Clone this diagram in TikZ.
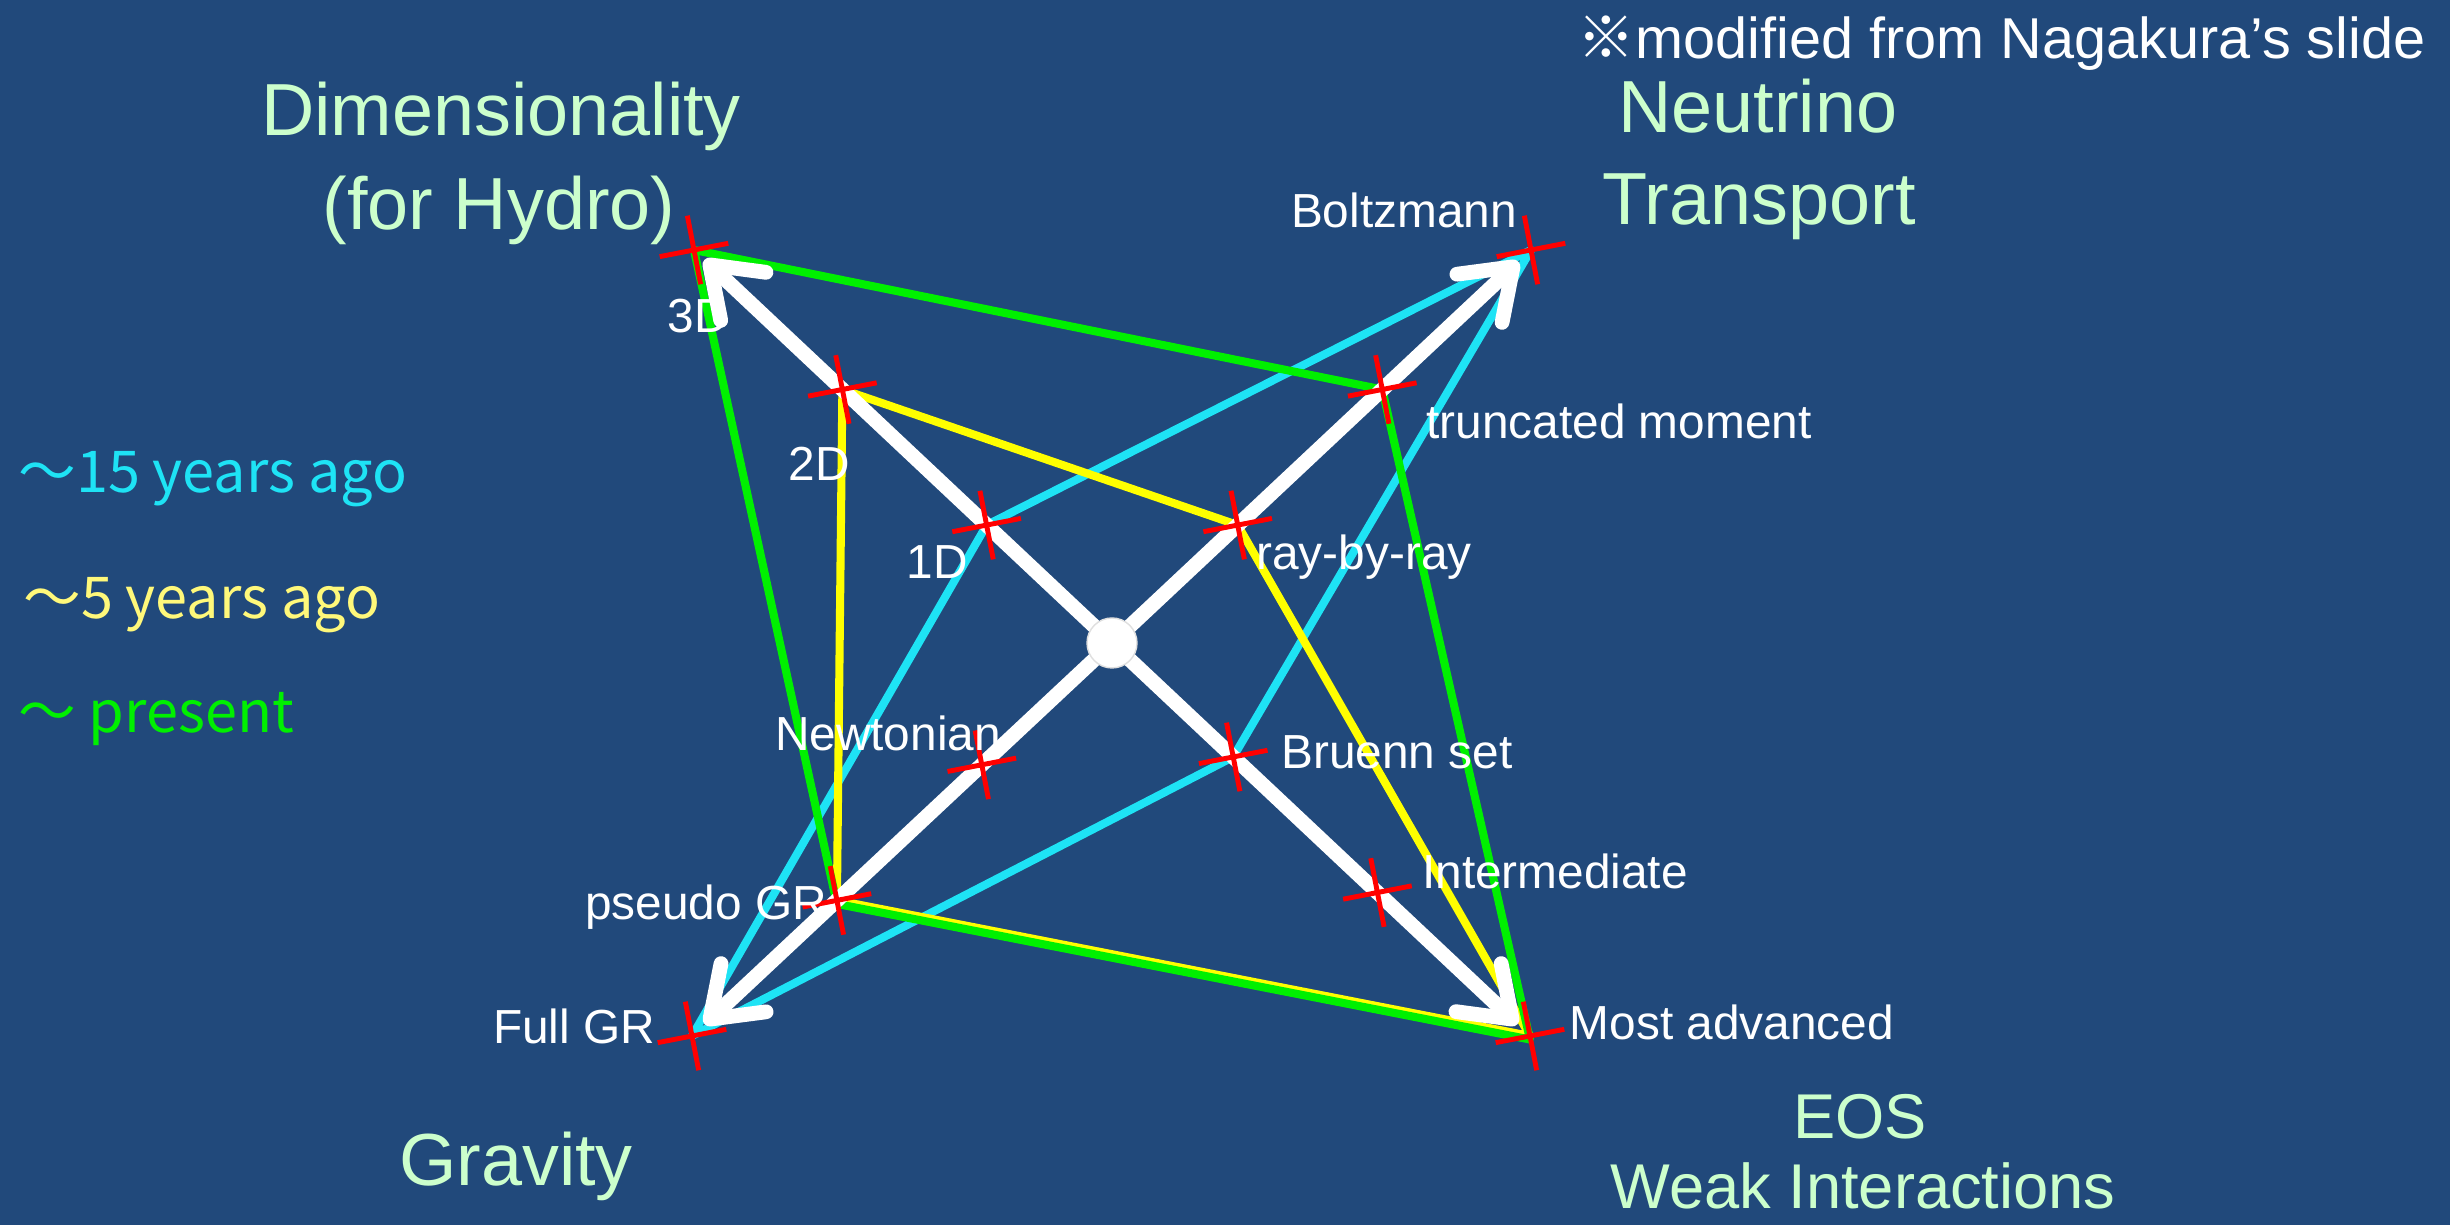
\documentclass[tikz,border=0pt]{standalone}
\usepackage{fontspec}
\setmainfont{Liberation Sans}
\newfontfamily\cjk{Noto Sans CJK JP}
\usetikzlibrary{calc,arrows.meta,shapes.misc}
\usepackage{xcolor}
\definecolor{slidebg}{HTML}{21497B}
\definecolor{titlegreen}{HTML}{CCFFCC}
\definecolor{oldcyan}{HTML}{1EE3F5}
\definecolor{midyellow}{HTML}{FFFF00}
\definecolor{nowgreen}{HTML}{00F000}
\definecolor{legyellow}{HTML}{FFF87A}

\begin{document}
\begin{tikzpicture}[
  axis/.style={white, line width=4.2pt, line cap=round,
    -{Straight Barb[round, length=4.6mm, width=6.6mm]}},
  era/.style={line width=2.3pt, line join=round},
  tick/.style={draw=red, line width=1.4pt, cross out, minimum size=0.445cm,
    inner sep=0pt, rotate=56},
  lbl/.style={white, font=\fontsize{13.6}{16}\selectfont, anchor=base},
  title/.style={titlegreen, font=\fontsize{21}{25}\selectfont, anchor=base},
  legend/.style={font=\cjk\fontsize{16.4}{19}\selectfont, anchor=base west}
]

% slide background
\fill[slidebg] (0,0) rectangle (24.5,12.25);
\useasboundingbox (0,0) rectangle (24.5,12.25);

% centre and the four axis ends
\coordinate (c) at (11.12,5.82);
\coordinate (dim3) at (6.94,9.75);
\coordinate (nu3) at (15.31,9.75);
\coordinate (gr3) at (6.92,1.89);
\coordinate (eos3) at (15.30,1.89);

% inner steps on each axis
\coordinate (dim1) at ($(c)!0.30!(dim3)$);
\coordinate (dim2) at ($(c)!0.645!(dim3)$);
\coordinate (nu1) at ($(c)!0.30!(nu3)$);
\coordinate (nu2) at ($(c)!0.645!(nu3)$);
\coordinate (gr1) at ($(c)!0.31!(gr3)$);
\coordinate (gr2) at ($(c)!0.655!(gr3)$);
\coordinate (eos1) at ($(c)!0.29!(eos3)$);
\coordinate (eos2) at ($(c)!0.635!(eos3)$);

% ~15 years ago
\draw[era, oldcyan] (dim1) -- (nu3) -- (eos1) -- (gr3) -- cycle;
% ~5 years ago
\draw[era, midyellow] (dim2) -- (nu1) -- (eos3) -- (gr2) -- cycle;
% ~present
\draw[era, nowgreen] (dim3) -- (nu2) -- ([yshift=-1pt]eos3) -- ([yshift=-1pt]gr2) -- cycle;

% the four axes
\draw[axis] (c) -- ($(c)!0.975!(dim3)$);
\draw[axis] (c) -- ($(c)!0.97!(nu3)$);
\draw[axis] (c) -- ($(c)!0.97!(gr3)$);
\draw[axis] (c) -- ($(c)!0.97!(eos3)$);
\node[circle, fill=white, draw=gray!25, minimum size=0.5cm] (hub) at (c) {};

% red marks
\node[tick] (m-dim1) at (dim1) {};
\node[tick] (m-dim2) at (dim2) {};
\node[tick] (m-dim3) at (dim3) {};
\node[tick] (m-nu1) at (nu1) {};
\node[tick] (m-nu2) at (nu2) {};
\node[tick] (m-nu3) at (nu3) {};
\node[tick] (m-gr1) at (gr1) {};
\node[tick] (m-gr2) at (gr2) {};
\node[tick] (m-gr3) at (gr3) {};
\node[tick] (m-eos1) at (eos1) {};
\node[tick] (m-eos2) at (eos2) {};
\node[tick] (m-eos3) at (eos3) {};

% step labels
\node[lbl] (l-dim3) at (6.98,8.92) {3D};
\node[lbl] (l-dim2) at (8.19,7.44) {2D};
\node[lbl] (l-dim1) at (9.37,6.46) {1D};
\node[lbl] (l-nu3) at (14.04,9.97) {Boltzmann};
\node[lbl] (l-nu2) at (16.19,7.86) {truncated moment};
\node[lbl] (l-nu1) at (13.64,6.55) {ray-by-ray};
\node[lbl] (l-gr1) at (8.88,4.74) {Newtonian};
\node[lbl] (l-gr2) at (7.06,3.05) {pseudo GR};
\node[lbl] (l-gr3) at (5.74,1.81) {Full GR};
\node[lbl] (l-eos1) at (13.97,4.56) {Bruenn set};
\node[lbl] (l-eos2) at (15.55,3.36) {Intermediate};
\node[lbl] (l-eos3) at (17.32,1.85) {Most advanced};

% axis titles
\node[title] (t-dim-a) at (5.01,10.89) {Dimensionality};
\node[title] (t-dim-b) at (4.99,9.95) {(for Hydro)};
\node[title] (t-nu-a) at (17.58,10.92) {Neutrino};
\node[title] (t-nu-b) at (17.59,10.00) {Transport};
\node[title] (t-gr) at (5.16,0.39) {Gravity};
\node[title, font=\fontsize{18}{22}\selectfont] (t-eos-a) at (18.60,0.86) {EOS};
\node[title, font=\fontsize{18}{22}\selectfont] (t-eos-b) at (18.63,0.16) {Weak Interactions};

% legend
\node[legend, oldcyan] (g-old) at (0.06,7.32) {〜15 years ago};
\node[legend, legyellow] (g-mid) at (0.11,6.06) {〜5 years ago};
\node[legend, nowgreen] (g-now) at (0.06,4.92) {〜 present};

% source note
\node[white, anchor=base east, font=\fontsize{16.4}{19}\selectfont] (note) at (24.38,11.66)
  {{\cjk ※}modified from Nagakura’s slide};

\end{tikzpicture}
\end{document}
